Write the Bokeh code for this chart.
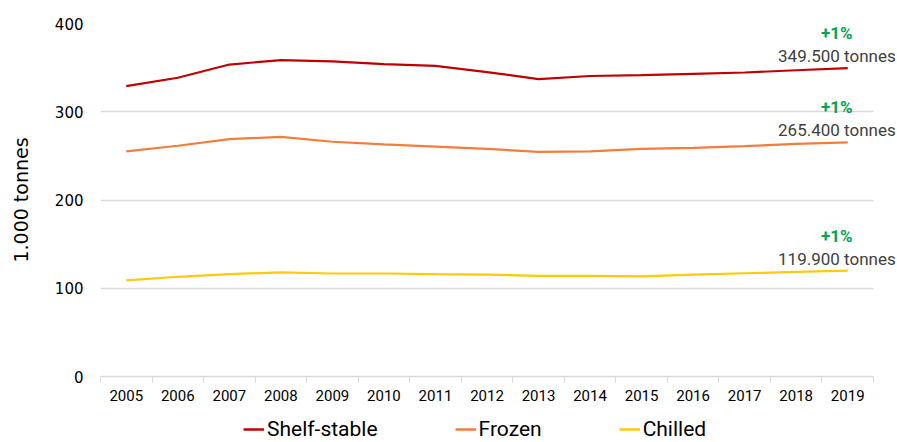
from bokeh.plotting import figure
from bokeh.models import FixedTicker, Label, Legend, LegendItem, Range1d
from bokeh.layouts import column
from bokeh.embed import file_html
from bokeh.resources import INLINE

years = list(range(2005, 2020))
shelf_stable = [329, 338.5, 353.5, 358.5, 357, 354, 352, 345, 337, 340.5, 341.5, 343, 344.5, 347, 349.5]
frozen = [255, 261.5, 269, 271.5, 266, 263, 260.5, 258, 254.5, 255, 258, 259, 261, 263.5, 265.4]
chilled = [109, 113, 116, 118, 116.7, 116.7, 116, 115.5, 114, 114, 113.5, 115.5, 117, 118.5, 119.9]
series_names = ["Shelf-stable", "Frozen", "Chilled"]
series_values = [shelf_stable, frozen, chilled]
series_colors = ["#C00000", "#F47D3B", "#FFC90E"]
change_labels = ["+1%", "+1%", "+1%"]
total_labels = ["349.500 tonnes", "265.400 tonnes", "119.900 tonnes"]
y_ticks = [0, 100, 200, 300, 400]

FONT = "Roboto"
x_lo = years[0] - 0.5
x_hi = years[-1] + 0.5

p = figure(width=897, height=414, output_backend="svg", toolbar_location=None,
           x_range=Range1d(x_lo, years[-1] + 0.966), y_range=Range1d(0, 400),
           min_border_left=100, min_border_right=0, min_border_top=23, min_border_bottom=38)
p.outline_line_color = None
p.background_fill_color = "white"

for name, vals, col in zip(series_names, series_values, series_colors):
    p.line(years, vals, line_color=col, line_width=2.2)

for vals, ch, tot in zip(series_values, change_labels, total_labels):
    p.add_layout(Label(x=years[-1], y=vals[-1], text=ch, text_color="#00A650",
                       text_font=FONT, text_font_size="17px", text_font_style="bold",
                       text_align="center", text_baseline="alphabetic", y_offset=35, x_offset=-11))
    p.add_layout(Label(x=years[-1], y=vals[-1], text=tot, text_color="#404040",
                       text_font=FONT, text_font_size="17px",
                       text_align="right", text_baseline="alphabetic", y_offset=12, x_offset=48))

p.xaxis.ticker = FixedTicker(ticks=years, minor_ticks=[y - 0.5 for y in years] + [x_hi])
p.xaxis.bounds = (x_lo, x_hi)
p.xaxis.major_tick_line_color = None
p.xaxis.minor_tick_line_color = "#d9d9d9"
p.xaxis.minor_tick_out = 6
p.xaxis.minor_tick_in = 0
p.xaxis.axis_line_color = "#d9d9d9"
p.xaxis.axis_line_width = 1.3
p.xaxis.major_label_text_font = FONT
p.xaxis.major_label_text_font_size = "15px"
p.xaxis.major_label_text_color = "#000000"
p.xaxis.major_label_standoff = 7

p.yaxis.ticker = FixedTicker(ticks=y_ticks)
p.yaxis.axis_line_color = None
p.yaxis.major_tick_line_color = None
p.yaxis.minor_tick_line_color = None
p.yaxis.major_tick_out = 0
p.yaxis.major_tick_in = 0
p.yaxis.minor_tick_out = 0
p.yaxis.major_label_text_font = "DejaVu Sans"
p.yaxis.major_label_text_font_size = "15px"
p.yaxis.major_label_text_color = "#000000"
p.yaxis.major_label_standoff = 17
p.yaxis.axis_label = "1.000 tonnes"
p.yaxis.axis_label_text_font = "DejaVu Sans"
p.yaxis.axis_label_text_font_size = "19px"
p.yaxis.axis_label_text_font_style = "normal"
p.yaxis.axis_label_text_color = "#000000"
p.yaxis.axis_label_standoff = 20

p.xgrid.grid_line_color = None
p.ygrid.grid_line_color = "#d9d9d9"
p.ygrid.grid_line_width = 1.3
p.ygrid.cross_bounds = (x_lo, x_hi)

# legend strip below the chart
nan = float("nan")
lg = figure(width=897, height=28, output_backend="svg", toolbar_location=None,
            x_range=Range1d(0, 1), y_range=Range1d(0, 1),
            min_border_left=100, min_border_right=0, min_border_top=0, min_border_bottom=0)
lg.axis.visible = False
lg.grid.visible = False
lg.outline_line_color = None
items = []
for name, col in zip(series_names, series_colors):
    r = lg.line([nan, nan], [nan, nan], line_color=col, line_width=2.5)
    items.append(LegendItem(label=name, renderers=[r]))
legend = Legend(items=items, orientation="horizontal", location=(143, 1),
                label_text_font=FONT, label_text_font_size="21px", label_text_color="#000000",
                glyph_width=21, glyph_height=24, label_height=24, label_standoff=3, spacing=77,
                border_line_color=None, background_fill_alpha=0, padding=0, margin=0)
lg.add_layout(legend)

layout = column(p, lg, spacing=0)
open("out.html", "w").write(file_html(layout, INLINE))
